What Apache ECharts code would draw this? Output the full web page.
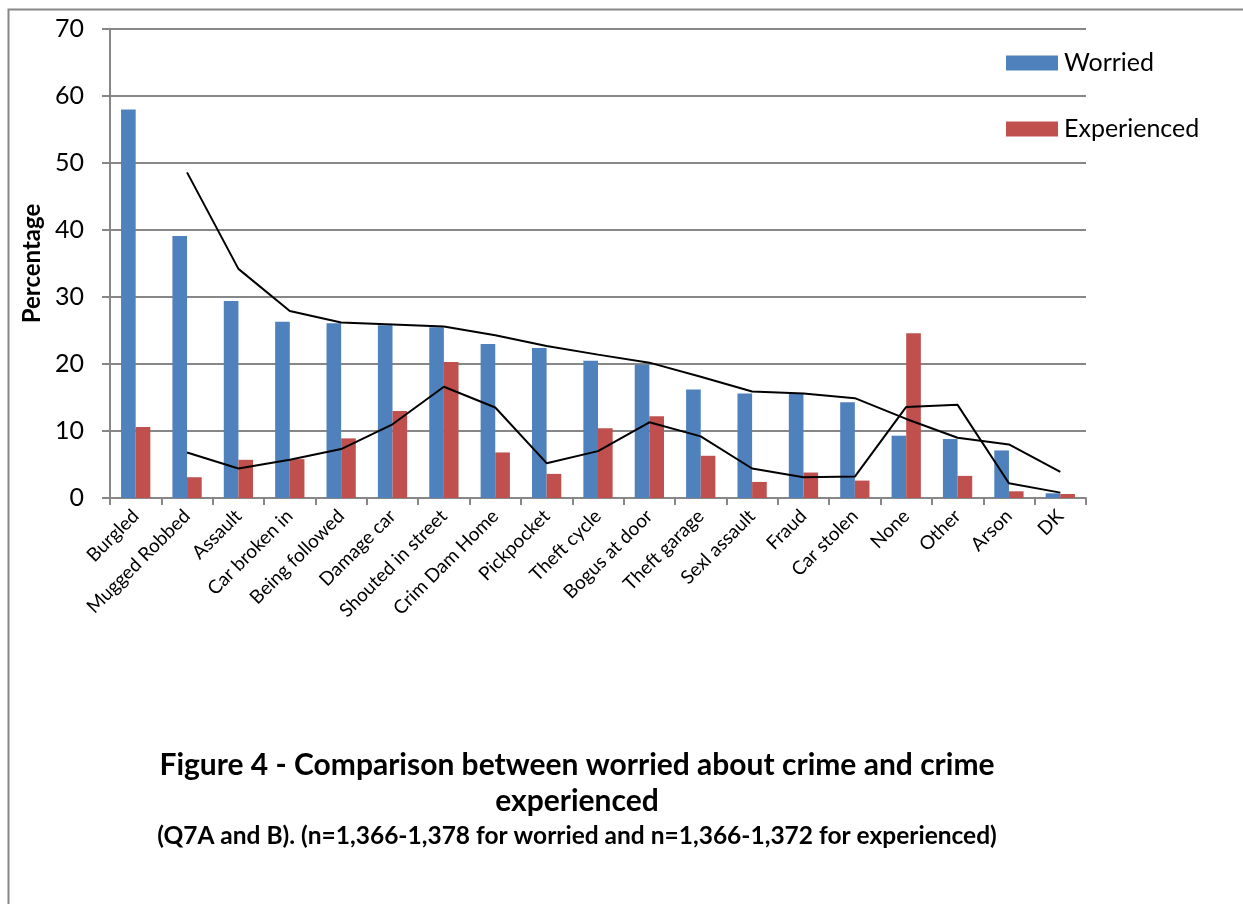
<!DOCTYPE html>
<html>
<head>
<meta charset="utf-8">
<script src="https://cdn.jsdelivr.net/npm/echarts@6/dist/echarts.min.js"></script>
<style>
  html, body { margin: 0; padding: 0; background: #fff; }
  #chart { width: 1243px; height: 904px; }
</style>
</head>
<body>
<div id="chart"></div>
<script>
// Crime categories, ordered by share worried
const categories = [
  'Burgled', 'Mugged Robbed', 'Assault', 'Car broken in', 'Being followed',
  'Damage car', 'Shouted in street', 'Crim Dam Home', 'Pickpocket', 'Theft cycle',
  'Bogus at door', 'Theft garage', 'Sexl assault', 'Fraud', 'Car stolen',
  'None', 'Other', 'Arson', 'DK'
];

// Percentage worried about each crime
const worried = [
  58.0, 39.1, 29.4, 26.3, 26.1, 25.8, 25.5, 23.0, 22.4, 20.5,
  19.9, 16.2, 15.6, 15.6, 14.3, 9.3, 8.8, 7.1, 0.7
];

// Percentage who experienced each crime
const experienced = [
  10.6, 3.1, 5.7, 5.8, 8.9, 13.0, 20.3, 6.8, 3.6, 10.4,
  12.2, 6.3, 2.4, 3.8, 2.6, 24.6, 3.3, 1.0, 0.6
];

// Two-period moving-average trend lines (first category has no point)
const worriedTrend = [
  null, 48.6, 34.2, 27.9, 26.2, 25.9, 25.6, 24.3, 22.7, 21.4,
  20.2, 18.1, 15.9, 15.6, 14.9, 11.8, 9.0, 8.0, 3.9
];
const experiencedTrend = [
  null, 6.8, 4.4, 5.7, 7.3, 11.0, 16.6, 13.5, 5.2, 7.0,
  11.3, 9.2, 4.4, 3.1, 3.2, 13.6, 13.9, 2.2, 0.8
];

// Value axis ticks
const yTicks = { min: 0, max: 70, interval: 10 };

const titleLine1 = 'Figure 4 - Comparison between worried about crime and crime';
const titleLine2 = 'experienced';
const subtitle = '(Q7A and B). (n=1,366-1,378 for worried and n=1,366-1,372 for experienced)';

const FONT = 'Lato, "Open Sans", sans-serif';
const AXIS_GREY = '#878787';

const chart = echarts.init(document.getElementById('chart'), null, { renderer: 'canvas' });

chart.setOption({
  backgroundColor: '#ffffff',
  animation: false,
  textStyle: { fontFamily: FONT, color: '#000' },
  grid: { left: 110, right: 157, top: 29, bottom: 406, containLabel: false },
  title: [
    {
      text: titleLine1 + '\n' + titleLine2,
      left: 572, top: 742, textAlign: 'center',
      textStyle: { fontFamily: FONT, fontWeight: 'bold', fontSize: 30, lineHeight: 36, color: '#000' }
    },
    {
      text: subtitle,
      left: 572, top: 819, textAlign: 'center',
      textStyle: { fontFamily: FONT, fontWeight: 'bold', fontSize: 24.5, color: '#000' }
    }
  ],
  legend: {
    orient: 'vertical',
    left: 1001, top: 45,
    itemWidth: 52, itemHeight: 15, itemGap: 40,
    icon: 'rect',
    textStyle: { fontFamily: FONT, fontSize: 25, lineHeight: 26, color: '#000', padding: [0, 0, 0, 1] },
    data: ['Worried', 'Experienced']
  },
  xAxis: {
    type: 'category',
    data: categories,
    boundaryGap: true,
    axisLine: { lineStyle: { color: AXIS_GREY, width: 2 } },
    axisTick: { show: true, length: 7, lineStyle: { color: AXIS_GREY, width: 2 } },
    axisLabel: { interval: 0, rotate: 45, fontSize: 19, color: '#000', margin: 15, fontFamily: FONT }
  },
  yAxis: {
    type: 'value',
    min: yTicks.min, max: yTicks.max, interval: yTicks.interval,
    name: 'Percentage',
    nameLocation: 'middle',
    nameRotate: 90,
    nameGap: 61,
    nameTextStyle: { fontFamily: FONT, fontWeight: 'bold', fontSize: 24, color: '#000' },
    axisLine: { show: true, lineStyle: { color: AXIS_GREY, width: 2 } },
    axisTick: { show: true, length: 8, lineStyle: { color: AXIS_GREY, width: 2 } },
    axisLabel: { fontSize: 25, color: '#000', margin: 26, fontFamily: FONT },
    splitLine: { show: true, lineStyle: { color: AXIS_GREY, width: 2 } }
  },
  series: [
    {
      name: 'Worried', type: 'bar', data: worried,
      itemStyle: { color: '#4F81BD' },
      barGap: '0%', barCategoryGap: '43%'
    },
    {
      name: 'Experienced', type: 'bar', data: experienced,
      itemStyle: { color: '#C0504D' },
      barGap: '0%', barCategoryGap: '43%'
    },
    {
      name: 'Worried trend', type: 'line', data: worriedTrend,
      showSymbol: false, symbol: 'none', connectNulls: false,
      lineStyle: { color: '#000', width: 2 }, z: 5
    },
    {
      name: 'Experienced trend', type: 'line', data: experiencedTrend,
      showSymbol: false, symbol: 'none', connectNulls: false,
      lineStyle: { color: '#000', width: 2 }, z: 5
    }
  ],
  graphic: [
    {
      // outer frame on the left and top edges
      type: 'polyline', silent: true,
      shape: { points: [[8.5, 904], [8.5, 9.5], [1243, 9.5]] },
      style: { stroke: AXIS_GREY, lineWidth: 2, fill: null }
    }
  ]
});
</script>
</body>
</html>
